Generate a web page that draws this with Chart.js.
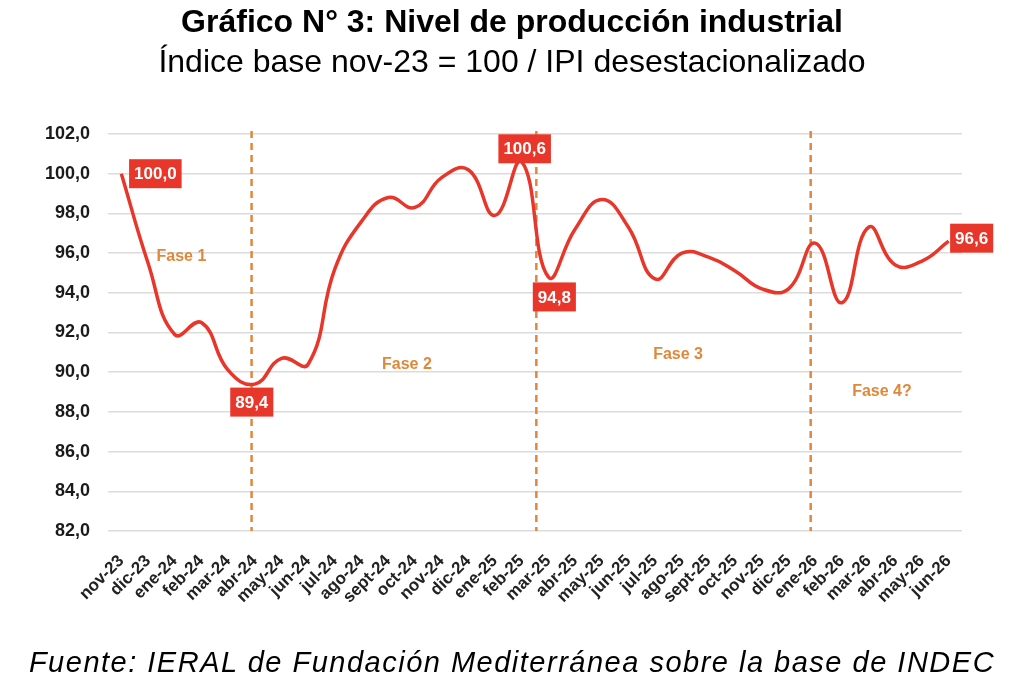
<!DOCTYPE html>
<html lang="es">
<head>
<meta charset="utf-8">
<title>Gráfico N° 3: Nivel de producción industrial</title>
<script src="https://cdn.jsdelivr.net/npm/chart.js@4.4.1/dist/chart.umd.min.js"></script>
<style>
  html, body { margin: 0; padding: 0; background: #fff; }
  #wrap { position: relative; width: 1024px; height: 695px; overflow: hidden;
          font-family: "Liberation Sans", Arial, sans-serif; color: #000; }
  #titulo { position: absolute; top: 5px; left: 0; width: 100%; text-align: center;
            font-weight: bold; font-size: 32px; line-height: 32px; white-space: nowrap; }
  #subtitulo { position: absolute; top: 45px; left: 0; width: 100%; text-align: center;
               font-size: 32px; line-height: 32px; white-space: nowrap; }
  #fuente { position: absolute; top: 648px; left: 0; width: 100%; text-align: center;
            font-style: italic; font-size: 29px; line-height: 29px; letter-spacing: 1.5px;
            white-space: nowrap; }
  #grafico { position: absolute; top: 0; left: 0; }
</style>
</head>
<body>
<div id="wrap">
  <canvas id="grafico" width="1024" height="695" style="width:1024px;height:695px"></canvas>
  <div id="titulo">Gráfico N° 3: Nivel de producción industrial</div>
  <div id="subtitulo">Índice base nov-23 = 100 / IPI desestacionalizado</div>
  <div id="fuente">Fuente: IERAL de Fundación Mediterránea sobre la base de INDEC</div>
</div>
<script>
// datos
const meses = ['nov-23', 'dic-23', 'ene-24', 'feb-24', 'mar-24', 'abr-24', 'may-24', 'jun-24',
  'jul-24', 'ago-24', 'sept-24', 'oct-24', 'nov-24', 'dic-24', 'ene-25', 'feb-25',
  'mar-25', 'abr-25', 'may-25', 'jun-25', 'jul-25', 'ago-25', 'sept-25', 'oct-25',
  'nov-25', 'dic-25', 'ene-26', 'feb-26', 'mar-26', 'abr-26', 'may-26', 'jun-26'];
const ipi = [100.0, 95.5, 91.9, 92.5, 90.1, 89.4, 90.7, 90.4,
  95.2, 97.6, 98.8, 98.3, 99.8, 100.2, 97.9, 100.6,
  94.8, 97.2, 98.7, 97.3, 94.7, 96.0, 95.8, 95.1,
  94.2, 94.2, 96.5, 93.5, 97.3, 95.4, 95.6, 96.6];
const yMin = 82, yMax = 102, yPaso = 2;
const fases = ['Fase 1', 'Fase 2', 'Fase 3', 'Fase 4?'];
const cortesFase = [4.88, 15.55, 25.83];   // posición (en meses) de los cortes
const puntosEtiquetados = [0, 5, 15, 16, 31];

const ROJO = '#e8372a';
const NARANJA = '#e0883a';
const fmt = v => v.toFixed(1).replace('.', ',');

const fasesPlugin = {
  id: 'fases',
  beforeDatasetsDraw(chart) {
    const { ctx, chartArea, scales: { x, y } } = chart;
    ctx.save();
    ctx.strokeStyle = NARANJA;
    ctx.lineWidth = 2.5;
    ctx.setLineDash([7, 5]);
    cortesFase.forEach(c => {
      const px = x.getPixelForValue(c);
      ctx.beginPath();
      ctx.moveTo(px, chartArea.top - 3);
      ctx.lineTo(px, chartArea.bottom);
      ctx.stroke();
    });
    ctx.setLineDash([]);
    // textos de cada fase
    const pos = [[2.25, 95.8], [10.7, 90.4], [20.86, 90.9], [28.5, 89.0]];
    ctx.fillStyle = NARANJA;
    ctx.font = 'bold 16px "Liberation Sans", Arial, sans-serif';
    ctx.textAlign = 'center';
    ctx.textBaseline = 'middle';
    fases.forEach((f, i) => {
      ctx.fillText(f, x.getPixelForValue(pos[i][0]), y.getPixelForValue(pos[i][1]));
    });
    ctx.restore();
  }
};

const etiquetasPlugin = {
  id: 'etiquetas',
  afterDatasetsDraw(chart) {
    const { ctx } = chart;
    const meta = chart.getDatasetMeta(0);
    // desplazamiento del centro de la caja respecto del punto
    const desp = { 0: [34, 0], 5: [-3, 18], 15: [3, -13], 16: [6, 20], 31: [23, -3] };
    ctx.save();
    ctx.font = 'bold 17px "Liberation Sans", Arial, sans-serif';
    ctx.textAlign = 'center';
    ctx.textBaseline = 'middle';
    puntosEtiquetados.forEach(i => {
      const p = meta.data[i];
      const txt = fmt(ipi[i]);
      const w = ctx.measureText(txt).width + 10;
      const h = 29;
      const cx = p.x + desp[i][0], cy = p.y + desp[i][1];
      ctx.fillStyle = ROJO;
      ctx.fillRect(cx - w / 2, cy - h / 2, w, h);
      ctx.fillStyle = '#fff';
      ctx.fillText(txt, cx, cy + 1);
    });
    ctx.restore();
  }
};

new Chart(document.getElementById('grafico').getContext('2d'), {
  type: 'line',
  data: {
    labels: meses,
    datasets: [{
      label: 'IPI desestacionalizado',
      data: ipi,
      borderColor: ROJO,
      borderWidth: 3.5,
      pointRadius: 0,
      fill: false,
      tension: 0.45
    }]
  },
  options: {
    responsive: false,
    animation: false,
    devicePixelRatio: 1,
    layout: { padding: { top: 134, right: 62, bottom: 74, left: 0 } },
    plugins: {
      legend: { display: false },
      tooltip: { enabled: false }
    },
    scales: {
      x: {
        offset: true,
        grid: { display: false },
        border: { display: false },
        afterFit: s => { s.height = 90; },
        ticks: {
          autoSkip: false,
          maxRotation: 45,
          minRotation: 45,
          padding: 12,
          color: '#222',
          font: { family: '"Liberation Sans", Arial, sans-serif', size: 17, weight: 'bold' }
        }
      },
      y: {
        min: yMin,
        max: yMax,
        afterFit: s => { s.width = 108; },
        grid: { color: '#dcdcdc', lineWidth: 1.5, drawTicks: false },
        border: { display: false },
        ticks: {
          stepSize: yPaso,
          padding: 18,
          color: '#1a1a1a',
          font: { family: '"Liberation Sans", Arial, sans-serif', size: 18, weight: 'bold' },
          callback: v => fmt(v)
        }
      }
    }
  },
  plugins: [fasesPlugin, etiquetasPlugin]
});
</script>
</body>
</html>
